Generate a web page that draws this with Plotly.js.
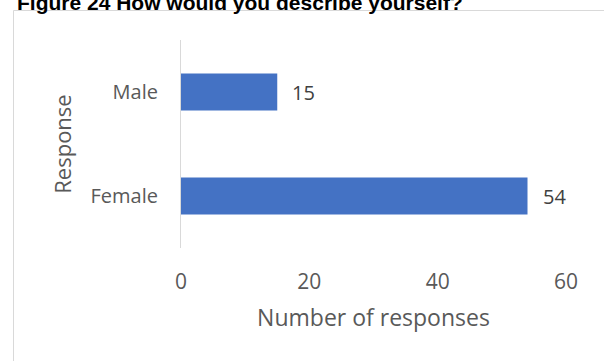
<!DOCTYPE html>
<html>
<head>
<meta charset="utf-8">
<script src="https://cdn.plot.ly/plotly-3.0.1.min.js"></script>
<style>
  html, body { margin: 0; padding: 0; background: #ffffff; }
  #chart { width: 604px; height: 361px; }
</style>
</head>
<body>
<div id="chart"></div>
<script>
// Data
const categories = ["Female", "Male"];
const responses = [54, 15];
const xTickValues = [0, 20, 40, 60];
const xTickLabels = ["0", "20", "40", "60"];
const chartTitle = "Figure 24 How would you describe yourself?";
const xTitle = "Number of responses";
const yTitle = "Response";

const txt = "#595959";
const fontFamily = "'Open Sans', 'Noto Sans', sans-serif";

const trace = {
  type: "bar",
  orientation: "h",
  x: responses,
  y: categories,
  marker: { color: "#4472C4" },
  hoverinfo: "none"
};

const labelAnnotations = categories.map((c, i) => ({
  x: responses[i],
  y: c,
  xref: "x",
  yref: "y",
  text: String(responses[i]),
  showarrow: false,
  xanchor: "left",
  yanchor: "middle",
  xshift: 13,
  font: { family: fontFamily, size: 20, color: "#404040" }
}));

const layout = {
  width: 604,
  height: 361,
  margin: { l: 181, r: 38, t: 40, b: 113 },
  paper_bgcolor: "#ffffff",
  plot_bgcolor: "rgba(0,0,0,0)",
  showlegend: false,
  bargap: 0.644,
  title: {
    text: "<b>" + chartTitle + "</b>",
    font: { family: "'Liberation Sans', Arial, sans-serif", size: 21, color: "#000000" },
    x: 17 / 604,
    xref: "container",
    xanchor: "left",
    y: 1 - 3 / 361,
    yref: "container",
    yanchor: "middle"
  },
  xaxis: {
    range: [0, 60],
    tickvals: xTickValues,
    ticktext: xTickLabels,
    showgrid: false,
    zeroline: false,
    showline: false,
    ticks: "",
    ticklabelstandoff: 19,
    tickfont: { family: fontFamily, size: 21, color: txt },
    title: {
      text: xTitle,
      font: { family: fontFamily, size: 23, color: txt },
      standoff: 15
    },
    automargin: false,
    fixedrange: true
  },
  yaxis: {
    showgrid: false,
    zeroline: false,
    showline: true,
    linecolor: "#d9d9d9",
    linewidth: 1,
    ticks: "",
    ticklabelstandoff: 18,
    tickfont: { family: fontFamily, size: 20, color: txt },
    title: {
      text: yTitle,
      font: { family: fontFamily, size: 22, color: txt },
      standoff: 12
    },
    automargin: false,
    fixedrange: true
  },
  annotations: labelAnnotations,
  shapes: [{
    type: "rect",
    xref: "paper",
    yref: "paper",
    x0: (13.5 - 181) / 385,
    x1: (620 - 181) / 385,
    y0: 1 - (380 - 40) / 208,
    y1: 1 + (40 - 10.5) / 208,
    line: { color: "#d9d9d9", width: 1 },
    fillcolor: "rgba(0,0,0,0)",
    layer: "below"
  }]
};

Plotly.newPlot("chart", [trace], layout, { displayModeBar: false, staticPlot: true });
</script>
</body>
</html>
